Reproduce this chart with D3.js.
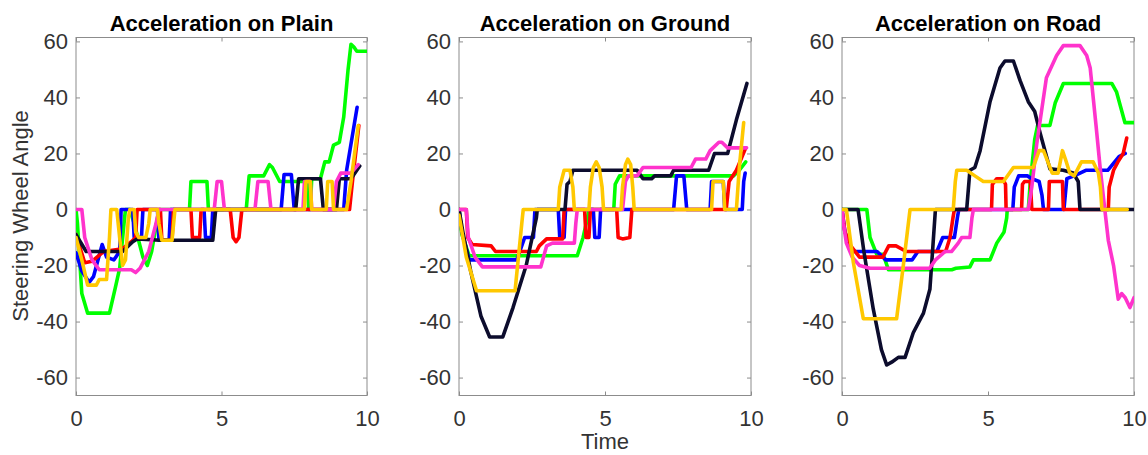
<!DOCTYPE html>
<html>
<head>
<meta charset="utf-8">
<script src="https://cdn.jsdelivr.net/npm/d3@7"></script>
<style>
  body { margin: 0; background: #fff; }
  text { font-family: Arial, "Liberation Sans", sans-serif; }
</style>
</head>
<body>
<div id="chart"></div>
<script>
// ---- data (time, steering wheel angle) ----
var xTicks = [0, 5, 10];
var yTicks = [-60, -40, -20, 0, 20, 40, 60];
var titles = ["Acceleration on Plain", "Acceleration on Ground", "Acceleration on Road"];
var seriesNames = ["green", "blue", "red", "black", "magenta", "yellow"];
var colours = ["#00ff00", "#0000ff", "#ff0000", "#0c0c2d", "#ff33cc", "#ffc800"];

// Plain
var plainBlack = [[0,-9],[0.35,-15],[1.6,-15],[1.95,-11.5],[2.1,-10.5],[2.9,-11],[4.7,-11],[4.8,0],[7.55,0],[7.65,11],[8.4,11],[8.5,0],[8.95,0],[9.05,11],[9.45,11],[9.75,15.5]];
var plainBlue = [[0,-15.5],[0.2,-22],[0.45,-26],[0.6,-24],[0.9,-12.5],[1.05,-17],[1.3,-18],[1.5,-15],[1.55,0],[1.95,0],[2.0,-10],[2.25,-10],[2.3,0],[2.8,0],[2.85,-11],[3.2,-11],[3.25,0],[4.4,0],[4.45,-10],[4.65,-10],[4.7,0],[7.05,0],[7.15,12.5],[7.4,12.5],[7.5,0],[9.2,0],[9.3,14],[9.66,36.5]];
var plainRed = [[0,-9],[0.3,-19],[0.55,-18.5],[0.95,-15],[1.6,-14],[1.9,-11.5],[2.05,-10],[2.1,0],[2.9,0],[2.95,-11],[3.3,-11],[3.35,0],[3.95,0],[4.0,-10],[4.25,-10],[4.3,0],[5.3,0],[5.4,-10],[5.5,-11.5],[5.6,-10],[5.7,0],[9.4,0],[9.5,10],[9.72,30]];
var plainGreen = [[0,0],[0.05,-5],[0.2,-30],[0.4,-37],[1.15,-37],[1.35,-28],[1.5,-21],[1.65,-5],[1.7,0],[1.85,0],[2.0,-5],[2.3,-17],[2.45,-20],[2.6,-15],[2.8,-3],[2.85,0],[3.9,0],[3.95,10],[4.5,10],[4.55,0],[5.85,0],[5.95,12],[6.45,12],[6.65,16],[6.75,15],[7.0,10],[7.95,10],[8.0,0],[8.05,0],[8.1,11],[8.4,11],[8.55,17],[8.7,17],[8.85,23],[9.05,24],[9.2,33],[9.35,50],[9.45,59],[9.55,58],[9.65,56.5],[10,56.5]];
var plainMagenta = [[0,0],[0.2,0],[0.3,-10],[0.55,-18],[0.8,-21.5],[1.9,-21.5],[2.05,-22.5],[2.2,-21],[2.5,-15],[2.75,-5],[2.85,0],[4.75,0],[4.85,10],[5.0,10],[5.1,0],[6.15,0],[6.25,10],[6.6,10],[6.7,0],[7.8,0],[7.85,10],[8.05,10],[8.1,0],[8.85,0],[8.95,10],[9.1,13],[9.45,13],[9.7,16]];
var plainYellow = [[0,-10],[0.2,-18],[0.4,-27],[0.7,-27],[0.8,-25],[1.05,-25],[1.15,-10],[1.2,0],[1.4,0],[1.5,-10],[1.6,-20],[1.7,-18],[1.8,-3],[1.85,0],[2.0,0],[2.05,-8],[2.15,-10],[2.4,-10],[2.5,-5],[2.55,0],[2.8,0],[2.85,-5],[2.95,-11],[3.3,-11],[3.4,0],[7.85,0],[7.9,10],[8.05,10],[8.1,0],[8.6,0],[8.65,10],[8.8,10],[8.85,0],[9.3,0],[9.45,10],[9.55,18],[9.7,30]];

// Ground
var groundBlack = [[0,0],[0.15,-9],[0.4,-22],[0.75,-38],[1.05,-45.5],[1.5,-45.5],[1.85,-35],[2.3,-20],[2.65,-3],[2.68,0],[3.63,0],[3.7,9],[3.8,10],[3.9,14],[6.1,14],[6.3,11],[6.6,11],[6.7,12],[7.25,12],[7.35,14],[8.55,14],[8.75,20],[9.2,20],[9.5,32],[9.86,45]];
var groundBlue = [[0,0],[0.1,-8],[0.35,-18],[1.98,-18],[2.25,-10],[2.55,-10],[2.6,0],[3.4,0],[3.45,-10],[3.6,-10],[3.65,0],[4.6,0],[4.65,-10],[4.8,-10],[4.85,0],[7.35,0],[7.45,12],[7.7,12],[7.8,0],[8.6,0],[8.65,10],[9.05,10],[9.1,0],[9.7,0],[9.75,10],[9.8,13]];
var groundRed = [[0,0],[0.25,0],[0.3,-10],[0.45,-12.5],[1.1,-13],[1.25,-15],[2.65,-15],[2.75,-13],[3.0,-10.5],[3.55,-10.5],[3.6,0],[4.3,0],[4.35,-10],[4.45,-10],[4.5,0],[5.4,0],[5.45,-10],[5.6,-10.5],[5.85,-10],[5.92,0],[9.15,0],[9.25,10],[9.5,14],[9.82,22]];
var groundGreen = [[0,0],[0.1,-9],[0.35,-16.5],[4.05,-16.5],[4.25,-10],[4.4,-3],[4.45,0],[5.3,0],[5.35,9],[5.5,12],[9.4,12],[9.6,14],[9.82,17]];
var groundMagenta = [[0,0],[0.25,0],[0.32,-10],[0.55,-17],[0.8,-20.5],[2.8,-20.5],[3.0,-13],[3.2,-12],[3.95,-12],[4.0,-5],[4.05,0],[5.6,0],[5.7,10],[5.8,12],[6.1,12],[6.3,15],[7.95,15],[8.1,18],[8.45,18],[8.6,21],[8.9,24],[9.0,24],[9.2,22],[9.85,22]];
var groundYellow = [[0,-2],[0.25,-17],[0.6,-29],[1.92,-29],[2.15,-5],[2.2,0],[3.4,0],[3.45,8],[3.6,14],[3.8,14],[3.9,8],[3.95,0],[4.45,0],[4.5,8],[4.6,15],[4.7,17],[4.8,15],[4.9,8],[4.95,0],[5.55,0],[5.6,8],[5.7,16],[5.78,18],[5.88,16],[5.95,8],[6.0,0],[8.65,0],[8.7,10],[9.05,10],[9.1,0],[9.5,0],[9.6,15],[9.75,31]];

// Road
var roadBlack = [[0,0],[0.55,0],[0.75,-15],[1.07,-35.5],[1.35,-50],[1.53,-55.5],[1.7,-54.5],[1.93,-52.8],[2.16,-52.8],[2.44,-44],[2.79,-37],[3.01,-28.5],[3.12,-12],[3.2,0],[4.27,0],[4.38,14],[4.55,15],[4.73,21],[5.07,38.5],[5.41,50.5],[5.58,53],[5.87,53],[6.1,46],[6.38,38.5],[6.6,35],[6.78,27.5],[7.12,14.5],[7.58,14],[7.92,13],[8.09,10],[8.15,0],[10,0]];
var roadBlue = [[0,0],[0.1,-8],[0.35,-15],[1.2,-15],[1.5,-18],[2.4,-18],[2.6,-15],[3.25,-15],[3.45,-10],[3.85,-10],[3.95,-3],[4.0,0],[5.85,0],[5.9,8],[6.05,12],[6.35,12],[6.5,11],[6.75,10],[6.85,5],[6.9,0],[7.6,0],[7.7,11],[7.95,12],[8.35,14],[9.1,14],[9.5,19],[9.7,20]];
var roadRed = [[0,0],[0.1,-8],[0.3,-13],[0.6,-17],[1.4,-17],[1.6,-13],[1.85,-13],[2.2,-15],[3.55,-15],[3.7,-10],[3.8,-3],[3.85,0],[5.12,0],[5.15,9],[5.3,11],[5.5,11],[5.6,9],[5.62,0],[6.15,0],[6.18,9],[6.25,10],[6.45,10],[6.5,0],[7.07,0],[7.1,10],[7.55,10],[7.58,0],[9.12,0],[9.15,8],[9.3,14],[9.45,17],[9.63,20],[9.75,25.5]];
var roadGreen = [[0,0],[0.85,0],[0.96,-10],[1.19,-16],[1.41,-16],[1.59,-21.5],[3.76,-21.5],[3.9,-21],[4.38,-20.5],[4.5,-18],[5.07,-18],[5.3,-12],[5.55,-8],[5.64,-3],[5.66,0],[6.38,0],[6.45,10],[6.6,25],[6.7,30],[7.12,30],[7.3,38],[7.58,45],[9.24,45],[9.4,42],[9.69,31],[10,31]];
var roadMagenta = [[0,0],[0.05,-5],[0.15,-12],[0.35,-17],[0.6,-20],[0.96,-21],[3.0,-21],[3.2,-18],[3.53,-15],[3.75,-15],[3.98,-12],[4.1,-10],[4.38,-10],[4.45,-3],[4.5,0],[6.38,0],[6.5,8],[6.67,23.5],[7.0,47],[7.35,55],[7.58,58.5],[8.15,58.5],[8.38,55],[8.5,50.5],[8.7,30],[8.84,15],[9.0,0],[9.12,-11],[9.3,-20],[9.46,-32],[9.58,-30],[9.7,-31.5],[9.86,-35],[10,-31.5]];
var roadYellow = [[0,0],[0.15,0],[0.39,-19],[0.73,-39],[1.87,-39],[2.1,-20],[2.33,0],[3.81,0],[3.88,10],[3.93,14],[4.27,14],[4.55,12],[4.84,10],[5.53,10],[5.87,15],[6.55,15],[6.75,21],[6.9,21],[7.2,13],[7.4,13],[7.55,21],[7.65,18],[7.8,13],[7.95,12],[8.2,17],[8.6,17],[8.78,13],[8.85,8],[8.9,0],[9.77,0]];

// drawing order matches series names / colours
var panelData = [
  [plainGreen, plainBlue, plainRed, plainBlack, plainMagenta, plainYellow],
  [groundGreen, groundBlue, groundRed, groundBlack, groundMagenta, groundYellow],
  [roadGreen, roadBlue, roadRed, roadBlack, roadMagenta, roadYellow]
];

// ---- layout ----
var width = 1148, height = 455;
var plotTop = 37.5, plotBottom = 395.5;
var panelX = [[76, 367], [459, 751], [842, 1134]];
var axisGrey = "#8c8c8c", textGrey = "#333";

var svg = d3.select("#chart").append("svg")
  .attr("width", width)
  .attr("height", height)
  .attr("viewBox", "0 0 " + width + " " + height);

var scaleY = d3.scaleLinear()
  .domain([-66.4, 61.4])
  .range([plotBottom, plotTop]);

// plain hyphen minus, like the original figure
var plainNumber = function (d) { return String(d); };

function renderPanel(i) {
  var left = panelX[i][0], right = panelX[i][1];
  var scaleX = d3.scaleLinear().domain([0, 10]).range([left, right]);

  var g = svg.append("g").attr("class", "panel-" + i);

  // box
  g.append("rect")
    .attr("x", left).attr("y", plotTop)
    .attr("width", right - left).attr("height", plotBottom - plotTop)
    .attr("fill", "none").attr("stroke", axisGrey).attr("stroke-width", 1);

  // axes, ticks pointing inward
  var yAxis = g.append("g")
    .attr("transform", "translate(" + left + ",0)")
    .call(d3.axisLeft(scaleY).tickValues(yTicks).tickSizeInner(-4).tickSizeOuter(0).tickPadding(8).tickFormat(plainNumber));
  var yAxisR = g.append("g")
    .attr("transform", "translate(" + right + ",0)")
    .call(d3.axisRight(scaleY).tickValues(yTicks).tickSizeInner(-4).tickSizeOuter(0).tickFormat(""));
  var xAxis = g.append("g")
    .attr("transform", "translate(0," + plotBottom + ")")
    .call(d3.axisBottom(scaleX).tickValues(xTicks).tickSizeInner(-4).tickSizeOuter(0).tickPadding(14.5).tickFormat(plainNumber));
  var xAxisT = g.append("g")
    .attr("transform", "translate(0," + plotTop + ")")
    .call(d3.axisTop(scaleX).tickValues(xTicks).tickSizeInner(-4).tickSizeOuter(0).tickFormat(""));

  [yAxis, yAxisR, xAxis, xAxisT].forEach(function (a) {
    a.select(".domain").remove();
    a.selectAll("line").attr("stroke", axisGrey);
    a.selectAll("text")
      .attr("fill", textGrey)
      .style("font-size", "22px")
      .style("font-family", "Arial, 'Liberation Sans', sans-serif");
  });

  // lines
  var clipId = "clip-" + i;
  g.append("clipPath").attr("id", clipId)
    .append("rect")
    .attr("x", left).attr("y", plotTop)
    .attr("width", right - left).attr("height", plotBottom - plotTop);

  var line = d3.line()
    .x(function (d) { return scaleX(d[0]); })
    .y(function (d) { return scaleY(d[1]); });

  g.append("g").attr("clip-path", "url(#" + clipId + ")")
    .selectAll("path.line")
    .data(panelData[i])
    .enter()
    .append("path")
    .attr("class", function (d, j) { return "line " + seriesNames[j]; })
    .attr("d", line)
    .attr("fill", "none")
    .attr("stroke", function (d, j) { return colours[j]; })
    .attr("stroke-width", 3.6)
    .attr("stroke-linejoin", "round")
    .attr("stroke-linecap", "round");

  // title
  g.append("text")
    .attr("x", (left + right) / 2)
    .attr("y", 31)
    .attr("text-anchor", "middle")
    .style("font-size", "22px")
    .style("font-weight", "bold")
    .attr("fill", "#000")
    .text(titles[i]);
}

for (var p = 0; p < 3; p++) renderPanel(p);

// axis labels
svg.append("text")
  .attr("text-anchor", "middle")
  .attr("transform", "translate(28,216) rotate(-90)")
  .style("font-size", "22px")
  .attr("fill", textGrey)
  .text("Steering Wheel Angle");

svg.append("text")
  .attr("x", (panelX[1][0] + panelX[1][1]) / 2)
  .attr("y", 449)
  .attr("text-anchor", "middle")
  .style("font-size", "22px")
  .attr("fill", textGrey)
  .text("Time");
</script>
</body>
</html>
